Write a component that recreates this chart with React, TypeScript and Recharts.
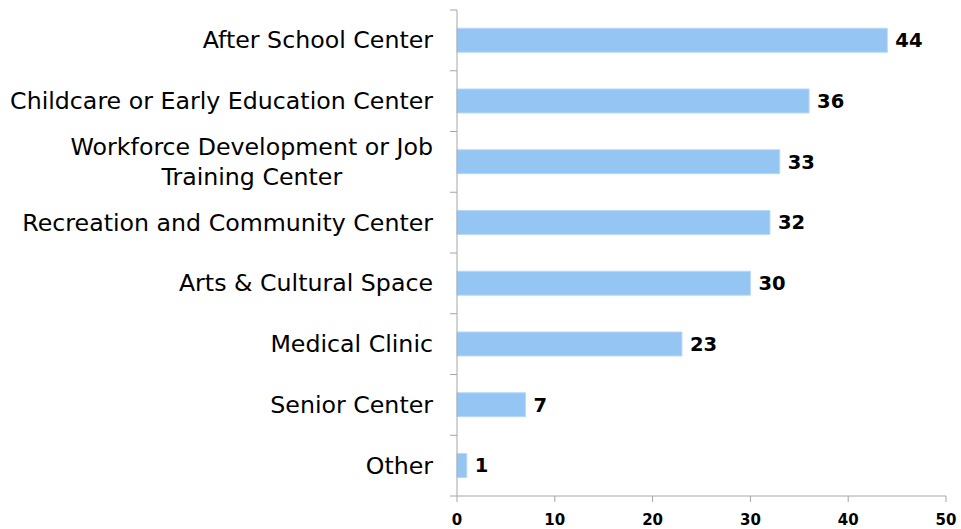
import React, { useLayoutEffect, useRef, useState } from "react";
import { BarChart, Bar, XAxis, YAxis, LabelList } from "recharts";

const categories = [
  "After School Center",
  "Childcare or Early Education Center",
  "Workforce Development or Job\nTraining Center",
  "Recreation and Community Center",
  "Arts & Cultural Space",
  "Medical Clinic",
  "Senior Center",
  "Other",
];
const values = [44, 36, 33, 32, 30, 23, 7, 1];
const xTicks = [0, 10, 20, 30, 40, 50];

const data = categories.map((c, i) => ({ name: c, value: values[i] }));

const W = 961;
const H = 529;
const TOP = 10;
const X_AXIS_H = 33;
const Y_AXIS_W = 457;
const RIGHT = 15;
const BAND = (H - TOP - X_AXIS_H) / categories.length;
const AXIS_COLOR = "#a6a6a6";
const LABEL_FONT = "'DejaVu Sans', sans-serif";
const LABEL_SIZE = 23.7;
const NUM_FONT = "'DejaVu Sans', sans-serif";

function MultiLine({ x, y, lines, fontSize, lineH }: any) {
  const ref = useRef<SVGTextElement>(null);
  const [w, setW] = useState(0);
  useLayoutEffect(() => {
    if (ref.current) setW(ref.current.getComputedTextLength());
  }, []);
  const cx = x - w / 2;
  const y0 = y - ((lines.length - 1) * lineH) / 2;
  return (
    <g>
      <text ref={ref} x={x} y={y0} textAnchor="end" dominantBaseline="central" fontSize={fontSize} fontFamily={LABEL_FONT} fill="#000">
        {lines[0]}
      </text>
      {lines.slice(1).map((l: string, i: number) => (
        <text key={i} x={cx} y={y0 + (i + 1) * lineH} textAnchor="middle" dominantBaseline="central" fontSize={fontSize} fontFamily={LABEL_FONT} fill="#000">
          {l}
        </text>
      ))}
    </g>
  );
}

function YTick(props: any) {
  const { y, payload, index, visibleTicksCount } = props;
  const axisX = Y_AXIS_W;
  const lines = String(payload.value).split("\n");
  const labelX = axisX - 24;
  return (
    <g>
      <line x1={axisX - 7} x2={axisX} y1={y - BAND / 2} y2={y - BAND / 2} stroke={AXIS_COLOR} strokeWidth={1} />
      {index === visibleTicksCount - 1 && (
        <line x1={axisX - 7} x2={axisX} y1={y + BAND / 2} y2={y + BAND / 2} stroke={AXIS_COLOR} strokeWidth={1} />
      )}
      {lines.length > 1 ? (
        <MultiLine x={labelX} y={y} lines={lines} fontSize={LABEL_SIZE} lineH={30} />
      ) : (
        <text x={labelX} y={y} textAnchor="end" dominantBaseline="central" fontSize={LABEL_SIZE} fontFamily={LABEL_FONT} fill="#000">
          {lines[0]}
        </text>
      )}
    </g>
  );
}

export default function App() {
  return (
    <div style={{ position: "absolute", left: 0, top: 0, background: "#fff" }}>
      <BarChart
        width={W}
        height={H}
        data={data}
        layout="vertical"
        margin={{ top: TOP, right: RIGHT, bottom: 0, left: 0 }}
        barCategoryGap="30%"
      >
        <XAxis
          type="number"
          domain={[0, 50]}
          ticks={xTicks}
          height={X_AXIS_H}
          stroke={AXIS_COLOR}
          tickSize={6}
          tickMargin={12}
          tick={{ fontSize: 15, fontWeight: "bold", fontFamily: NUM_FONT, fill: "#000" }}
          interval={0}
        />
        <YAxis
          type="category"
          dataKey="name"
          width={Y_AXIS_W}
          stroke={AXIS_COLOR}
          tickLine={false}
          tick={<YTick />}
          interval={0}
        />
        <Bar dataKey="value" fill="#95c5f2" stroke="#b9d9f7" strokeWidth={1} isAnimationActive={false}>
          <LabelList dataKey="value" position="right" offset={8} style={{ fontSize: 19.5, fontWeight: "bold", fontFamily: NUM_FONT, fill: "#000" }} />
        </Bar>
      </BarChart>
    </div>
  );
}
